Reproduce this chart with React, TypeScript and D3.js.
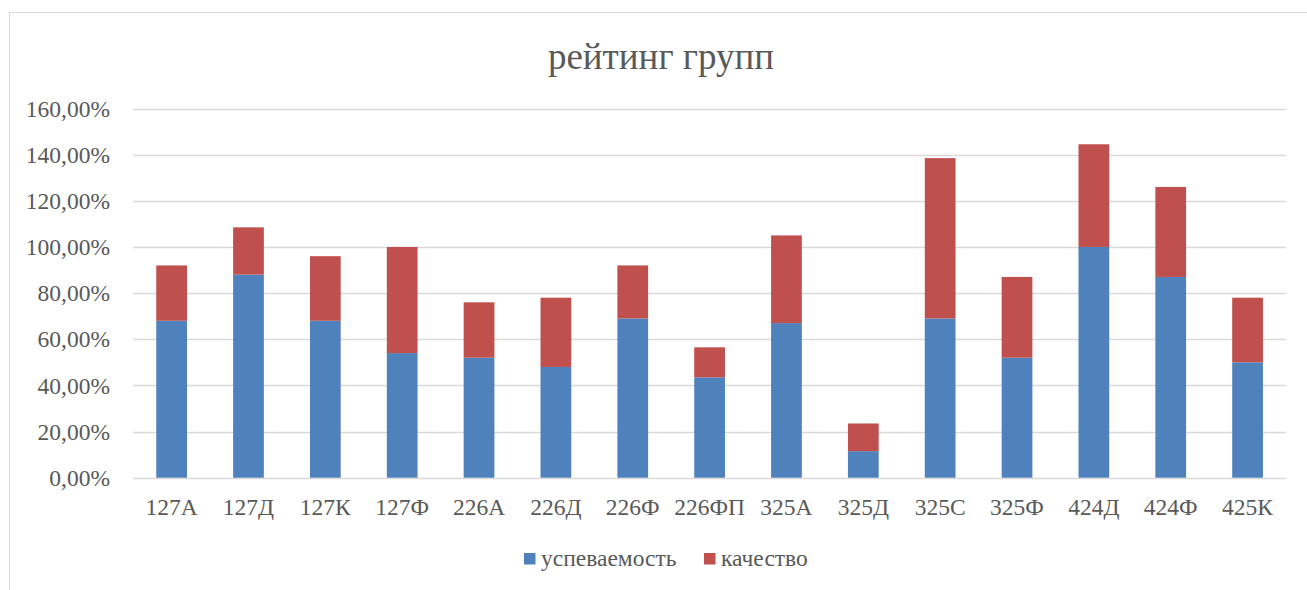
import React from 'react';
import * as d3 from 'd3';

const groups = ['127А', '127Д', '127К', '127Ф', '226А', '226Д', '226Ф', '226ФП', '325А', '325Д', '325С', '325Ф', '424Д', '424Ф', '425К'];
const uspevaemost = [68, 88, 68, 54, 52, 48, 69, 43.5, 67, 11.5, 69, 52, 100, 87, 50];
const kachestvo = [24, 20.5, 28, 46, 24, 30, 23, 13, 38, 12, 69.5, 35, 44.5, 39, 28];
const yTicks = [0, 20, 40, 60, 80, 100, 120, 140, 160];

const seriesNames = ['успеваемость', 'качество'];
const colors = ['#4F81BD', '#C0504D'];

const W = 1307;
const H = 590;
const font = '"Liberation Serif", "Times New Roman", serif';
const textColor = '#595959';
const fs = 23.5;

export default function App() {
  const x = d3.scaleBand<string>().domain(groups).range([133.2, 1286]).paddingInner(0.6).paddingOuter(0.3);
  const y = d3.scaleLinear().domain([0, 160]).range([477.7, 108.5]);

  const rows = groups.map((g, i) => ({ g, a: uspevaemost[i], b: kachestvo[i] }));
  const stack = d3.stack<any>().keys(['a', 'b'])(rows);

  return (
    <svg width={W} height={H} style={{ position: 'absolute', left: 0, top: 0 }}>
      <rect x={0} y={0} width={W} height={H} fill="#fff" />
      <rect x={9.5} y={12.5} width={W} height={H} fill="none" stroke="#D9D9D9" strokeWidth={1} />

      <text x={661} y={69} textAnchor="middle" fontFamily={font} fontSize={37} fill={textColor}>рейтинг групп</text>

      {yTicks.map(t => (
        <g key={t}>
          <line x1={133.2} x2={1286} y1={Math.round(y(t)) + 0.5} y2={Math.round(y(t)) + 0.5} stroke="#D9D9D9" strokeWidth={1.3} />
          <text x={110} y={y(t)} dy="0.35em" textAnchor="end" fontFamily={font} fontSize={fs} fill={textColor}>
            {t.toFixed(2).replace('.', ',') + '%'}
          </text>
        </g>
      ))}

      {stack.map((s, si) => (
        <g key={si} fill={colors[si]}>
          {s.map((d, i) => (
            <rect key={i} x={x(groups[i])} y={y(d[1])} width={x.bandwidth()} height={y(d[0]) - y(d[1])} />
          ))}
        </g>
      ))}

      {groups.map(g => (
        <text key={g} x={(x(g) as number) + x.bandwidth() / 2} y={515} textAnchor="middle" fontFamily={font} fontSize={fs} fill={textColor}>{g}</text>
      ))}

      <rect x={524} y={553} width={11.5} height={11.5} fill={colors[0]} />
      <text x={541} y={566} fontFamily={font} fontSize={fs} fill={textColor}>{seriesNames[0]}</text>
      <rect x={704} y={553} width={11.5} height={11.5} fill={colors[1]} />
      <text x={721} y={566} fontFamily={font} fontSize={fs} fill={textColor}>{seriesNames[1]}</text>
    </svg>
  );
}
